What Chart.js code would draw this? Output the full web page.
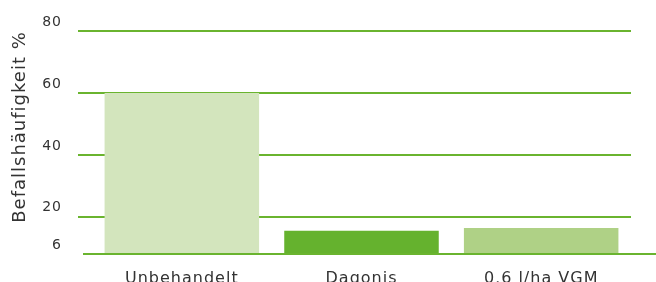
<!DOCTYPE html>
<html>
<head>
<meta charset="utf-8">
<script src="https://cdn.jsdelivr.net/npm/chart.js@4/dist/chart.umd.min.js"></script>
<style>
  html, body { margin: 0; padding: 0; background: #fff; }
  #wrap { width: 656px; height: 282px; }
</style>
</head>
<body>
<div id="wrap"><canvas id="elGrafico"></canvas></div>
<script>
const categorias = ['Unbehandelt', 'Dagonis', '0,6 l/ha VGM']
const befall = [60, 15.5, 16.4]
const farben = ['#d3e5bd', '#65b22e', '#afd186']
const yWerte = [8, 20, 40, 60, 80]
const yLabels = ['6', '20', '40', '60', '80']
const yTitel = 'Befallshäufigkeit %'

const gruen = '#6ab42f'
const textFarbe = '#333333'

// etwas Buchstabenabstand wie im Original
const abstand = {
    id: 'abstand',
    beforeLayout: (chart) => { chart.ctx.letterSpacing = '1px' },
    beforeDraw: (chart) => { chart.ctx.letterSpacing = '1px' }
}

// Grundlinie bis zum rechten Rand, Achsentitel etwas nach oben versetzt
const extras = {
    id: 'extras',
    afterDatasetsDraw: (chart) => {
        const ctx = chart.ctx
        const y = chart.scales.y.getPixelForValue(yWerte[0])
        ctx.save()
        ctx.strokeStyle = gruen
        ctx.lineWidth = 2
        ctx.beginPath()
        ctx.moveTo(83, y)
        ctx.lineTo(chart.width, y)
        ctx.stroke()

        ctx.translate(20, 127)
        ctx.rotate(-Math.PI / 2)
        ctx.fillStyle = textFarbe
        ctx.font = '18px "DejaVu Sans"'
        ctx.textAlign = 'center'
        ctx.textBaseline = 'middle'
        ctx.fillText(yTitel, 0, 0)
        ctx.restore()
    }
}

new Chart('elGrafico', {
    type: 'bar',
    data: {
        labels: categorias,
        datasets: [{
            data: befall,
            backgroundColor: farben,
            borderWidth: 0,
            barPercentage: 0.86,
            categoryPercentage: 1
        }]
    },
    options: {
        responsive: true,
        maintainAspectRatio: false,
        animation: false,
        layout: { padding: { top: 31, right: 25, bottom: 0, left: 0 } },
        plugins: {
            legend: { display: false },
            tooltip: { enabled: false }
        },
        scales: {
            x: {
                grid: { display: false },
                border: { display: false },
                ticks: {
                    color: textFarbe,
                    font: { family: 'DejaVu Sans', size: 16 },
                    padding: 7
                },
                afterFit: (s) => { s.height = 28 }
            },
            y: {
                min: yWerte[0],
                max: 80,
                afterBuildTicks: (s) => { s.ticks = yWerte.map((v) => ({ value: v })) },
                grid: {
                    color: (c) => c.tick && c.tick.value === yWerte[0] ? 'rgba(0,0,0,0)' : gruen,
                    lineWidth: 2,
                    tickLength: 14,
                    drawTicks: true
                },
                border: { display: false },
                ticks: {
                    color: textFarbe,
                    font: { family: 'DejaVu Sans', size: 14 },
                    padding: 16,
                    labelOffset: -9,
                    callback: (v, i) => yLabels[i]
                },
                title: { display: false },
                afterFit: (s) => { s.width = 92 }
            }
        }
    },
    plugins: [abstand, extras]
})
</script>
</body>
</html>
